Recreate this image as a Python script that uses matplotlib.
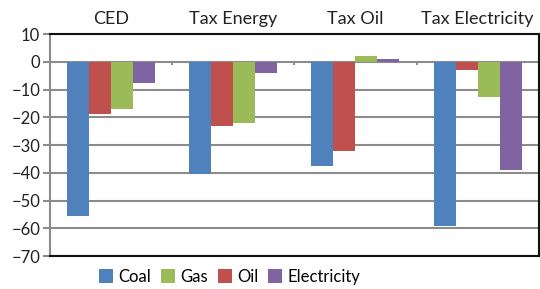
import numpy as np
import matplotlib.pyplot as plt

plt.rcParams['font.family'] = ['Lato', 'DejaVu Sans']

categories = ["CED", "Tax Energy", "Tax Oil", "Tax Electricity"]
coal = [-55.6, -40.6, -37.5, -59.3]
oil = [-18.8, -23.2, -32.1, -2.9]
gas = [-17.0, -22.2, 2.0, -12.8]
electricity = [-7.6, -4.1, 1.1, -39.1]

series = [("Coal", coal, "#4F81BD"), ("Oil", oil, "#C0504D"),
          ("Gas", gas, "#9BBB59"), ("Electricity", electricity, "#8064A2")]

fig = plt.figure(figsize=(5.4, 2.89), dpi=100)
ax = fig.add_axes([0.0926, 0.114, 0.905, 0.768])

x = np.arange(len(categories))
w = 0.18
handles = {}
for i, (name, vals, col) in enumerate(series):
    b = ax.bar(x + (i - 1.5) * w, vals, w, color=col, zorder=3)
    handles[name] = b

ax.set_xlim(-0.5, len(categories) - 0.5)
ax.set_ylim(-70, 10)
ax.set_yticks(np.arange(-70, 11, 10))
ax.yaxis.grid(True, color="#8c8c8c", lw=1.5, zorder=0)
ax.tick_params(axis='y', colors="#8c8c8c", length=5, width=1.5, labelsize=12,
               labelcolor="#222222", pad=2)

ax.xaxis.tick_top()
ax.set_xticks(x, categories)
ax.tick_params(axis='x', length=0, labelsize=13, pad=5, labelcolor="#222222")

# small tick marks on the zero line between groups
ax.vlines(x[:-1] + 0.5, -1.2, 0, color="#8c8c8c", lw=1.5, zorder=2)

for s in ["top", "bottom", "right"]:
    ax.spines[s].set_color("#111111")
    ax.spines[s].set_linewidth(1.5)
ax.spines["left"].set_color("#8c8c8c")
ax.spines["left"].set_linewidth(1.5)

order = ["Coal", "Gas", "Oil", "Electricity"]
fig.legend([handles[n] for n in order], order, loc="center",
           bbox_to_anchor=(0.425, 0.042), ncol=4, frameon=False, fontsize=12,
           handlelength=0.85, handleheight=0.85, handletextpad=0.3,
           columnspacing=0.6)

fig.savefig("out.png", dpi=100)
